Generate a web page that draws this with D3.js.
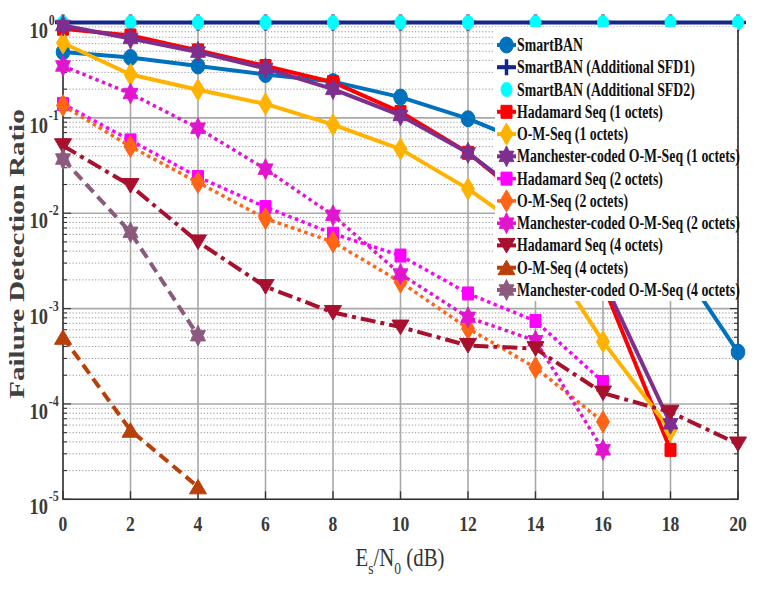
<!DOCTYPE html>
<html>
<head>
<meta charset="utf-8">
<script src="https://cdn.jsdelivr.net/npm/d3@7"></script>
<style>
  body { margin: 0; background: #fff; }
  svg { display: block; }
</style>
</head>
<body>
<svg id="chart" width="759" height="591"></svg>
<script>
// Es/N0 points (dB)
const snr = [0, 2, 4, 6, 8, 10, 12, 14, 16, 18, 20];

// failure detection ratio, one array per curve
const smartBAN      = [0.49, 0.43, 0.35, 0.285, 0.24, 0.165, 0.098, 0.05, 0.018, 0.004, 3.5e-4];
const smartBANSfd1  = [1, 1, 1, 1, 1, 1, 1, 1, 1, 1, 1];
const smartBANSfd2  = [1, 1, 1, 1, 1, 1, 1, 1, 1, 1, 1];
const hadamard1     = [0.86, 0.73, 0.51, 0.35, 0.237, 0.115, 0.043, 0.0116, 0.0018, 3.3e-5];
const omSeq1        = [0.61, 0.285, 0.197, 0.14, 0.085, 0.047, 0.018, 0.0057, 4.5e-4, 5.3e-5];
const manchester1   = [0.93, 0.68, 0.49, 0.33, 0.2, 0.106, 0.043, 0.0125, 0.002, 6.2e-5];
const hadamard2     = [0.14, 0.058, 0.024, 0.0116, 0.0061, 0.0036, 0.00144, 7.4e-4, 1.7e-4];
const omSeq2        = [0.135, 0.05, 0.021, 0.0088, 0.005, 0.0019, 6.2e-4, 2.4e-4, 6.5e-5];
const manchester2   = [0.35, 0.18, 0.078, 0.029, 0.0095, 0.0023, 8.1e-4, 4.6e-4, 3.3e-5];
const hadamard4     = [0.051, 0.0195, 0.005, 0.0017, 9.1e-4, 6.4e-4, 4.1e-4, 3.8e-4, 1.3e-4, 8.2e-5, 3.8e-5];
const omSeq4        = [5e-4, 5.3e-5, 1.35e-5];
const manchester4   = [0.037, 0.0063, 5.2e-4];

const xTicks = [0, 2, 4, 6, 8, 10, 12, 14, 16, 18, 20];
const yExponents = [0, -1, -2, -3, -4, -5];

const series = [
  { name: "SmartBAN", data: smartBAN, color: "#0072BD", dash: null, width: 4, marker: "circle" },
  { name: "SmartBAN (Additional SFD1)", data: smartBANSfd1, color: "#14278A", dash: null, width: 4, marker: "plus" },
  { name: "SmartBAN (Additional SFD2)", data: smartBANSfd2, color: "#00FFFF", dash: null, width: 0, marker: "dot" },
  { name: "Hadamard Seq (1 octets)", data: hadamard1, color: "#FF0000", dash: null, width: 4, marker: "square" },
  { name: "O-M-Seq (1 octets)", data: omSeq1, color: "#FFB300", dash: null, width: 4, marker: "diamond" },
  { name: "Manchester-coded O-M-Seq (1 octets)", data: manchester1, color: "#7E2F8E", dash: null, width: 4, marker: "hexagram" },
  { name: "Hadamard Seq (2 octets)", data: hadamard2, color: "#FF00FF", dash: "3.5,3.5", width: 3.5, marker: "square" },
  { name: "O-M-Seq (2 octets)", data: omSeq2, color: "#FF6417", dash: "3.5,3.5", width: 3.5, marker: "diamond" },
  { name: "Manchester-coded O-M-Seq (2 octets)", data: manchester2, color: "#E215CF", dash: "3.5,3.5", width: 3.5, marker: "hexagram" },
  { name: "Hadamard Seq (4 octets)", data: hadamard4, color: "#A8102E", dash: "15,5,4,5", width: 4, marker: "triDown" },
  { name: "O-M-Seq (4 octets)", data: omSeq4, color: "#B8400A", dash: "11,6", width: 4, marker: "triUp" },
  { name: "Manchester-coded O-M-Seq (4 octets)", data: manchester4, color: "#8C5A7C", dash: "11,6", width: 4, marker: "hexagram" }
];

const svg = d3.select("#chart");
const plotLeft = 63, plotRight = 738, plotTop = 22.5, plotBottom = 499.3;
const squeeze = 0.75; // the original figure is squashed horizontally

const x = d3.scaleLinear().domain([0, 20]).range([plotLeft, plotRight]);
const y = d3.scaleLog().domain([1e-5, 1]).range([plotBottom, plotTop]);

// grid
const grid = svg.append("g");
for (let e = -5; e < 0; e++) {
  for (let m = 2; m <= 9; m++) {
    grid.append("line")
      .attr("x1", plotLeft).attr("x2", plotRight)
      .attr("y1", y(m * Math.pow(10, e))).attr("y2", y(m * Math.pow(10, e)))
      .attr("stroke", "#8a8a8a").attr("stroke-width", 0.9)
      .attr("stroke-dasharray", "1.2,2");
  }
}
yExponents.forEach(e => {
  grid.append("line")
    .attr("x1", plotLeft).attr("x2", plotRight)
    .attr("y1", y(Math.pow(10, e))).attr("y2", y(Math.pow(10, e)))
    .attr("stroke", "#a8a8a8").attr("stroke-width", 1.6);
});
xTicks.forEach(t => {
  grid.append("line")
    .attr("x1", x(t)).attr("x2", x(t))
    .attr("y1", plotTop).attr("y2", plotBottom)
    .attr("stroke", "#a8a8a8").attr("stroke-width", 1.6);
});

// axes box and ticks
const axes = svg.append("g").attr("stroke", "#333");
axes.append("rect")
  .attr("x", plotLeft).attr("y", plotTop)
  .attr("width", plotRight - plotLeft).attr("height", plotBottom - plotTop)
  .attr("fill", "none").attr("stroke-width", 1.5);
xTicks.forEach(t => {
  axes.append("line").attr("x1", x(t)).attr("x2", x(t)).attr("y1", plotBottom).attr("y2", plotBottom - 8).attr("stroke-width", 1.3);
  axes.append("line").attr("x1", x(t)).attr("x2", x(t)).attr("y1", plotTop).attr("y2", plotTop + 8).attr("stroke-width", 1.3);
});
for (let e = -5; e < 0; e++) {
  for (let m = 1; m <= 9; m++) {
    const len = m === 1 ? 8 : 4;
    const yy = y(m * Math.pow(10, e));
    axes.append("line").attr("x1", plotLeft).attr("x2", plotLeft + len).attr("y1", yy).attr("y2", yy).attr("stroke-width", 1.1);
    axes.append("line").attr("x1", plotRight).attr("x2", plotRight - len).attr("y1", yy).attr("y2", yy).attr("stroke-width", 1.1);
  }
}

// tick labels
const font = "'Liberation Serif', 'Times New Roman', serif";
xTicks.forEach(t => {
  svg.append("g")
    .attr("transform", `translate(${x(t)},${plotBottom + 32}) scale(0.8,1)`)
    .append("text")
    .attr("text-anchor", "middle")
    .attr("font-family", font).attr("font-weight", "bold")
    .attr("font-size", 22).attr("fill", "#3a3a3a")
    .text(t);
});
yExponents.forEach(e => {
  const g = svg.append("g")
    .attr("transform", `translate(48,${y(Math.pow(10, e))}) scale(0.8,1)`);
  g.append("text")
    .attr("x", 0).attr("y", 15).attr("text-anchor", "end")
    .attr("font-family", font).attr("font-weight", "bold")
    .attr("font-size", 23).attr("fill", "#3a3a3a")
    .text("10");
  g.append("text")
    .attr("x", 1).attr("y", 2).attr("text-anchor", "start")
    .attr("font-family", font).attr("font-weight", "bold")
    .attr("font-size", 15).attr("fill", "#3a3a3a")
    .text(e);
});

// axis titles
const xl = svg.append("g")
  .attr("transform", `translate(400,566) scale(0.8,1)`)
  .append("text")
  .attr("text-anchor", "middle")
  .attr("font-family", font).attr("font-size", 26).attr("fill", "#333");
xl.append("tspan").text("E");
xl.append("tspan").attr("font-size", 17).attr("dy", 8).text("s");
xl.append("tspan").attr("dy", -8).text("/N");
xl.append("tspan").attr("font-size", 17).attr("dy", 8).text("0");
xl.append("tspan").attr("dy", -8).text(" (dB)");

svg.append("g")
  .attr("transform", `translate(24,254) scale(${squeeze},1) rotate(-90)`)
  .append("text")
  .attr("text-anchor", "middle")
  .attr("font-family", font).attr("font-weight", "bold")
  .attr("font-size", 29).attr("fill", "#404040")
  .text("Failure Detection Ratio");

// marker shapes
function hexagram(R) {
  const pts = [];
  for (let k = 0; k < 12; k++) {
    const r = k % 2 === 0 ? R : R / Math.sqrt(3);
    const a = (-90 + k * 30) * Math.PI / 180;
    pts.push([r * Math.cos(a), r * Math.sin(a)]);
  }
  return "M" + pts.map(p => p.join(",")).join("L") + "Z";
}
const markerPaths = {
  circle: "M0,-8A6.8,8 0 1,1 0,8A6.8,8 0 1,1 0,-8Z",
  dot: "M0,-7A5.5,7 0 1,1 0,7A5.5,7 0 1,1 0,-7Z",
  plus: "M-8,0L8,0M0,-8L0,8",
  square: "M-5.5,-6.5L5.5,-6.5L5.5,6.5L-5.5,6.5Z",
  diamond: "M0,-11L6.5,0L0,11L-6.5,0Z",
  triDown: "M-8.5,-7L8.5,-7L0,7.5Z",
  triUp: "M-8.5,7L8.5,7L0,-7.5Z"
};

function drawMarker(g, kind, cx, cy, color) {
  if (kind === "hexagram") {
    g.append("path")
      .attr("d", hexagram(10.5))
      .attr("transform", `translate(${cx},${cy}) scale(0.82,1)`)
      .attr("fill", color).attr("stroke", color).attr("stroke-width", 1);
  } else if (kind === "plus") {
    g.append("path")
      .attr("d", markerPaths.plus)
      .attr("transform", `translate(${cx},${cy})`)
      .attr("fill", "none").attr("stroke", color).attr("stroke-width", 3.5);
  } else {
    g.append("path")
      .attr("d", markerPaths[kind])
      .attr("transform", `translate(${cx},${cy})`)
      .attr("fill", color).attr("stroke", color).attr("stroke-width", 1);
  }
}

// curves
const line = d3.line().x(d => x(d[0])).y(d => y(d[1]));
const plot = svg.append("g");
series.forEach(s => {
  const pts = s.data.map((v, i) => [snr[i], v]);
  if (s.width > 0) {
    plot.append("path")
      .datum(pts)
      .attr("d", line)
      .attr("fill", "none")
      .attr("stroke", s.color)
      .attr("stroke-width", s.width)
      .attr("stroke-dasharray", s.dash)
      .attr("stroke-linejoin", "round");
  }
  pts.forEach(p => drawMarker(plot, s.marker, x(p[0]), y(p[1]), s.color));
});

// legend
const legend = svg.append("g");
legend.append("rect")
  .attr("x", 495).attr("y", 27)
  .attr("width", plotRight - 495 - 1).attr("height", 274)
  .attr("fill", "#fff");
series.forEach((s, i) => {
  const ly = 45 + i * 22.27;
  if (s.width > 0) {
    legend.append("line")
      .attr("x1", 497).attr("x2", 516)
      .attr("y1", ly).attr("y2", ly)
      .attr("stroke", s.color).attr("stroke-width", s.width);
  }
  drawMarker(legend, s.marker, 506.5, ly, s.color);
  legend.append("g")
    .attr("transform", `translate(517,${ly + 6}) scale(${squeeze},1)`)
    .append("text")
    .attr("font-family", font).attr("font-weight", "bold")
    .attr("font-size", 18.4).attr("fill", "#111")
    .text(s.name);
});
</script>
</body>
</html>
